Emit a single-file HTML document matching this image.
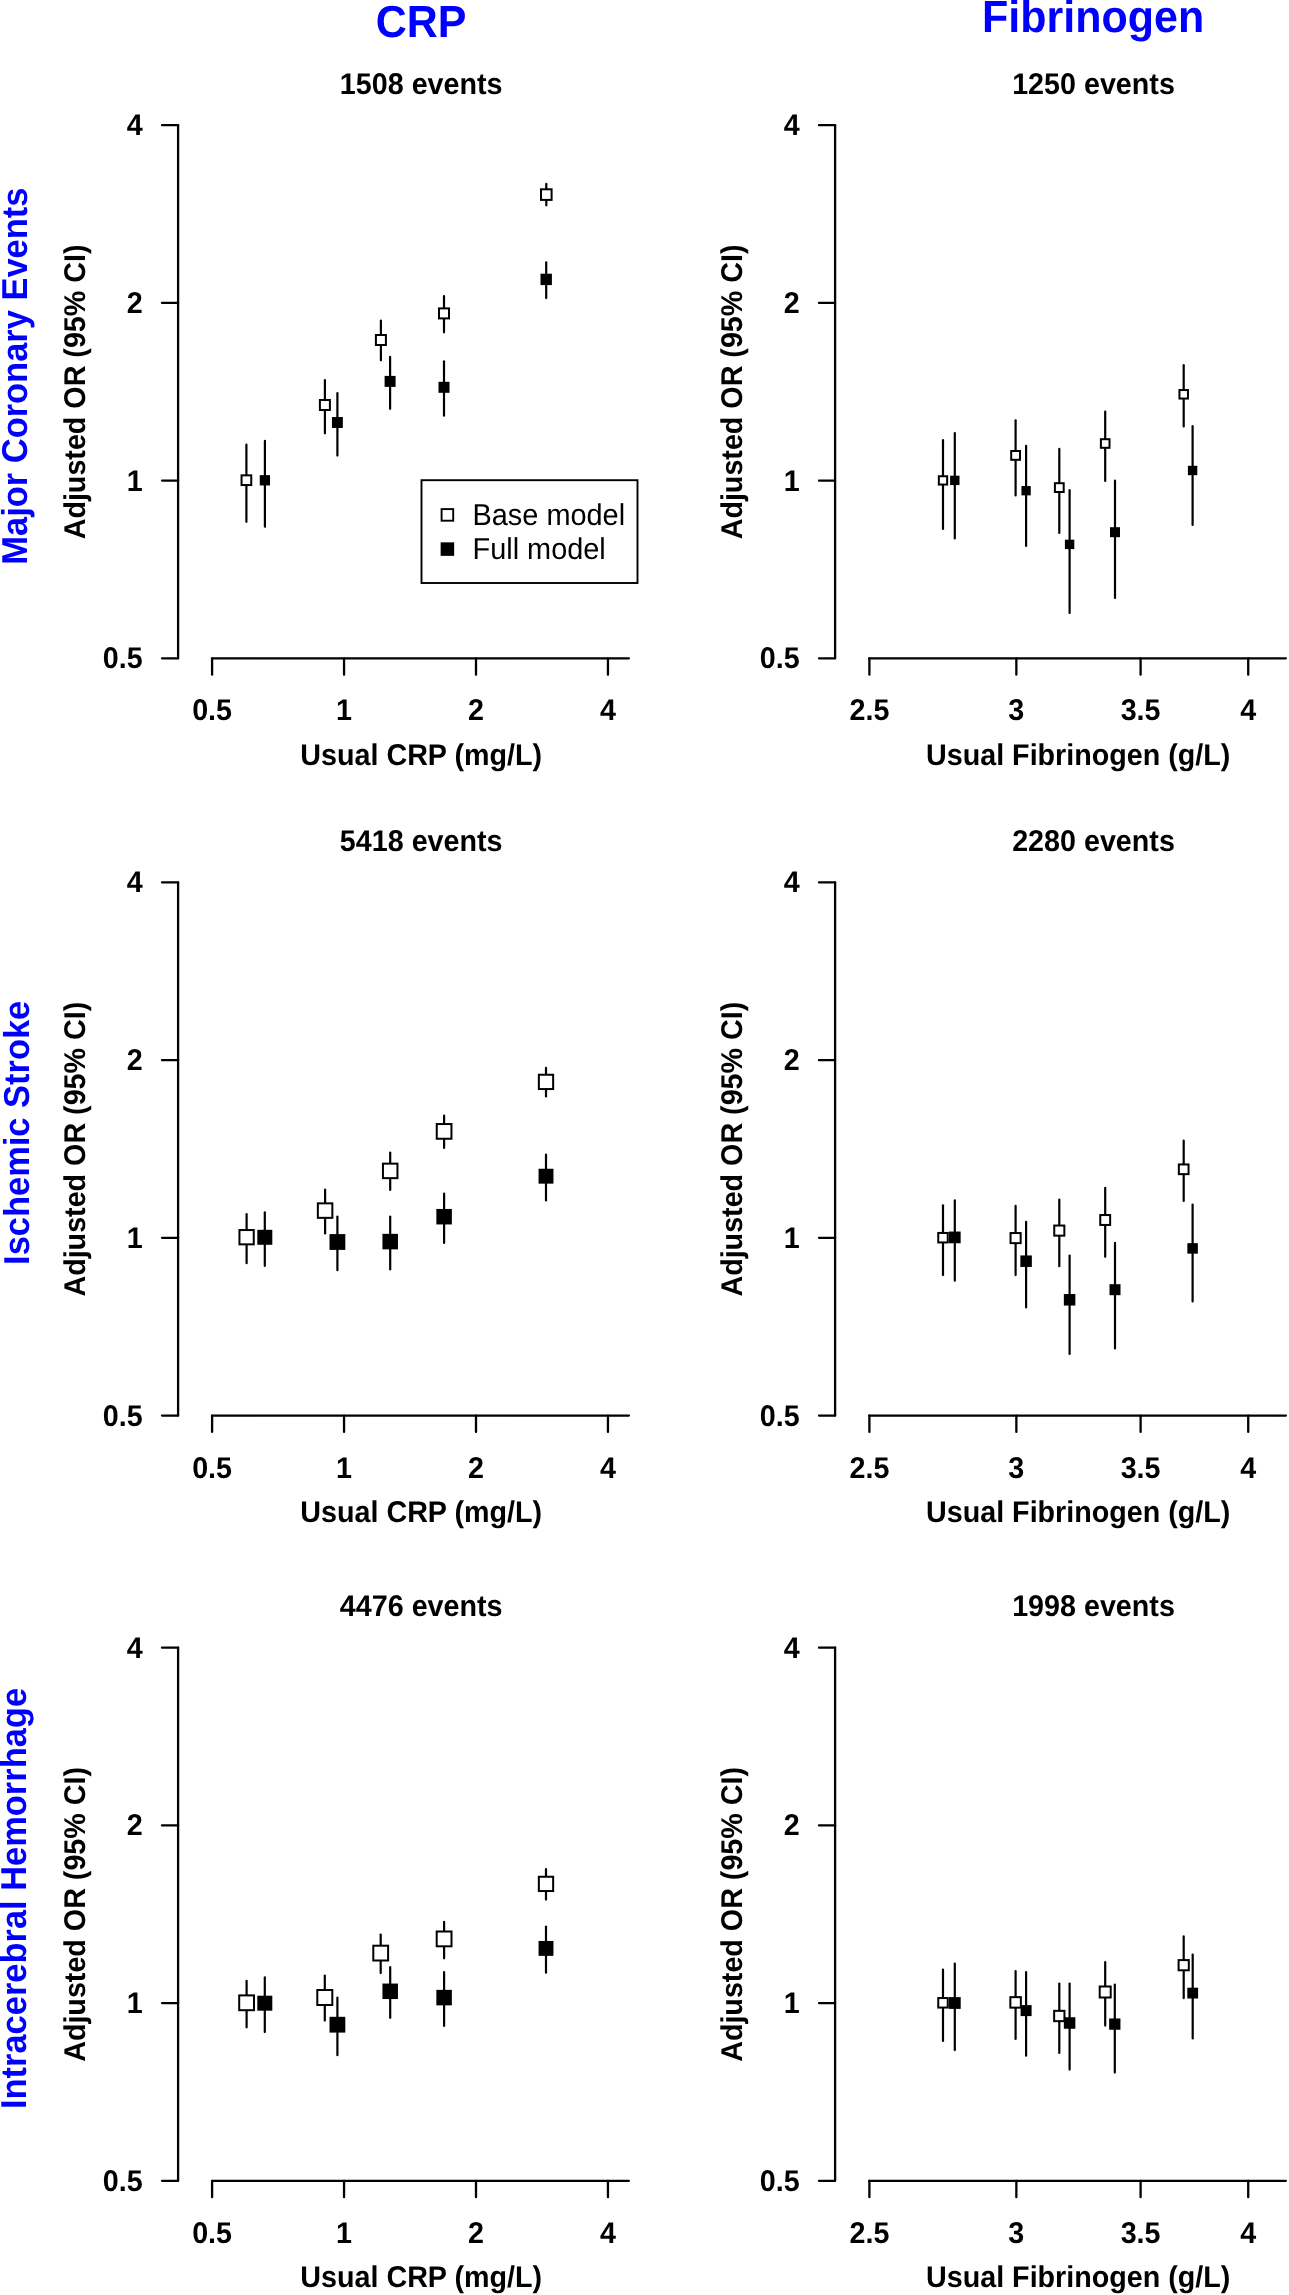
<!DOCTYPE html>
<html><head><meta charset="utf-8"><style>
html,body{margin:0;padding:0;background:#fff;width:1289px;height:2295px;overflow:hidden}
svg{display:block;will-change:transform}
text{font-family:"Liberation Sans",sans-serif;text-rendering:geometricPrecision}
</style></head><body>
<svg width="1289" height="2295" viewBox="0 0 1289 2295">
<rect width="1289" height="2295" fill="#fff"/>
<g stroke="#000" stroke-linecap="round" fill="none">
<line x1="178.10" y1="125.20" x2="178.10" y2="658.30" stroke-width="2.30"/>
<line x1="162.00" y1="125.20" x2="178.10" y2="125.20" stroke-width="2.30"/>
<line x1="162.00" y1="302.90" x2="178.10" y2="302.90" stroke-width="2.30"/>
<line x1="162.00" y1="480.60" x2="178.10" y2="480.60" stroke-width="2.30"/>
<line x1="162.00" y1="658.30" x2="178.10" y2="658.30" stroke-width="2.30"/>
<line x1="212.10" y1="658.30" x2="628.90" y2="658.30" stroke-width="2.30"/>
<line x1="212.10" y1="658.30" x2="212.10" y2="674.70" stroke-width="2.30"/>
<line x1="344.05" y1="658.30" x2="344.05" y2="674.70" stroke-width="2.30"/>
<line x1="476.00" y1="658.30" x2="476.00" y2="674.70" stroke-width="2.30"/>
<line x1="607.95" y1="658.30" x2="607.95" y2="674.70" stroke-width="2.30"/>
<line x1="246.40" y1="444.70" x2="246.40" y2="521.80" stroke-width="2.20"/>
<line x1="324.90" y1="380.10" x2="324.90" y2="433.30" stroke-width="2.20"/>
<line x1="380.90" y1="320.60" x2="380.90" y2="360.30" stroke-width="2.20"/>
<line x1="444.00" y1="296.10" x2="444.00" y2="332.30" stroke-width="2.20"/>
<line x1="546.30" y1="183.90" x2="546.30" y2="205.30" stroke-width="2.20"/>
<line x1="264.90" y1="440.90" x2="264.90" y2="526.70" stroke-width="2.20"/>
<line x1="337.40" y1="393.10" x2="337.40" y2="455.60" stroke-width="2.20"/>
<line x1="390.10" y1="356.90" x2="390.10" y2="408.80" stroke-width="2.20"/>
<line x1="444.00" y1="361.30" x2="444.00" y2="415.70" stroke-width="2.20"/>
<line x1="546.20" y1="262.30" x2="546.20" y2="298.10" stroke-width="2.20"/>
<rect x="241.55" y="475.35" width="9.70" height="9.70" fill="#fff" stroke-width="2.00"/>
<rect x="319.90" y="400.00" width="10.00" height="10.00" fill="#fff" stroke-width="2.00"/>
<rect x="375.90" y="335.00" width="10.00" height="10.00" fill="#fff" stroke-width="2.00"/>
<rect x="439.00" y="308.40" width="10.00" height="10.00" fill="#fff" stroke-width="2.00"/>
<rect x="541.00" y="189.30" width="10.60" height="10.60" fill="#fff" stroke-width="2.00"/>
<rect x="259.75" y="475.15" width="10.30" height="10.30" fill="#000" stroke="none"/>
<rect x="331.95" y="417.05" width="10.90" height="10.90" fill="#000" stroke="none"/>
<rect x="384.60" y="375.90" width="11.00" height="11.00" fill="#000" stroke="none"/>
<rect x="438.50" y="381.80" width="11.00" height="11.00" fill="#000" stroke="none"/>
<rect x="540.50" y="273.70" width="11.40" height="11.40" fill="#000" stroke="none"/>
<line x1="835.10" y1="125.20" x2="835.10" y2="658.30" stroke-width="2.30"/>
<line x1="819.00" y1="125.20" x2="835.10" y2="125.20" stroke-width="2.30"/>
<line x1="819.00" y1="302.90" x2="835.10" y2="302.90" stroke-width="2.30"/>
<line x1="819.00" y1="480.60" x2="835.10" y2="480.60" stroke-width="2.30"/>
<line x1="819.00" y1="658.30" x2="835.10" y2="658.30" stroke-width="2.30"/>
<line x1="869.10" y1="658.30" x2="1285.90" y2="658.30" stroke-width="2.30"/>
<line x1="869.40" y1="658.30" x2="869.40" y2="674.70" stroke-width="2.30"/>
<line x1="1016.35" y1="658.30" x2="1016.35" y2="674.70" stroke-width="2.30"/>
<line x1="1140.60" y1="658.30" x2="1140.60" y2="674.70" stroke-width="2.30"/>
<line x1="1248.22" y1="658.30" x2="1248.22" y2="674.70" stroke-width="2.30"/>
<line x1="943.00" y1="440.20" x2="943.00" y2="529.00" stroke-width="2.20"/>
<line x1="1015.60" y1="420.30" x2="1015.60" y2="495.50" stroke-width="2.20"/>
<line x1="1059.30" y1="448.90" x2="1059.30" y2="533.00" stroke-width="2.20"/>
<line x1="1105.20" y1="411.60" x2="1105.20" y2="481.00" stroke-width="2.20"/>
<line x1="1183.70" y1="365.20" x2="1183.70" y2="426.50" stroke-width="2.20"/>
<line x1="954.80" y1="433.10" x2="954.80" y2="538.50" stroke-width="2.20"/>
<line x1="1026.10" y1="445.80" x2="1026.10" y2="546.00" stroke-width="2.20"/>
<line x1="1069.60" y1="490.20" x2="1069.60" y2="613.00" stroke-width="2.20"/>
<line x1="1115.00" y1="480.70" x2="1115.00" y2="597.90" stroke-width="2.20"/>
<line x1="1192.60" y1="426.20" x2="1192.60" y2="524.90" stroke-width="2.20"/>
<rect x="938.85" y="476.25" width="8.30" height="8.30" fill="#fff" stroke-width="2.00"/>
<rect x="1011.20" y="451.00" width="8.80" height="8.80" fill="#fff" stroke-width="2.00"/>
<rect x="1054.90" y="483.20" width="8.80" height="8.80" fill="#fff" stroke-width="2.00"/>
<rect x="1100.90" y="439.20" width="8.60" height="8.60" fill="#fff" stroke-width="2.00"/>
<rect x="1179.45" y="390.05" width="8.50" height="8.50" fill="#fff" stroke-width="2.00"/>
<rect x="950.10" y="475.70" width="9.40" height="9.40" fill="#000" stroke="none"/>
<rect x="1021.45" y="486.05" width="9.30" height="9.30" fill="#000" stroke="none"/>
<rect x="1064.90" y="539.70" width="9.40" height="9.40" fill="#000" stroke="none"/>
<rect x="1110.00" y="527.20" width="10.00" height="10.00" fill="#000" stroke="none"/>
<rect x="1187.90" y="465.80" width="9.40" height="9.40" fill="#000" stroke="none"/>
<line x1="178.10" y1="882.45" x2="178.10" y2="1415.55" stroke-width="2.30"/>
<line x1="162.00" y1="882.45" x2="178.10" y2="882.45" stroke-width="2.30"/>
<line x1="162.00" y1="1060.15" x2="178.10" y2="1060.15" stroke-width="2.30"/>
<line x1="162.00" y1="1237.85" x2="178.10" y2="1237.85" stroke-width="2.30"/>
<line x1="162.00" y1="1415.55" x2="178.10" y2="1415.55" stroke-width="2.30"/>
<line x1="212.10" y1="1415.55" x2="628.90" y2="1415.55" stroke-width="2.30"/>
<line x1="212.10" y1="1415.55" x2="212.10" y2="1431.95" stroke-width="2.30"/>
<line x1="344.05" y1="1415.55" x2="344.05" y2="1431.95" stroke-width="2.30"/>
<line x1="476.00" y1="1415.55" x2="476.00" y2="1431.95" stroke-width="2.30"/>
<line x1="607.95" y1="1415.55" x2="607.95" y2="1431.95" stroke-width="2.30"/>
<line x1="246.60" y1="1214.00" x2="246.60" y2="1263.20" stroke-width="2.20"/>
<line x1="325.10" y1="1189.70" x2="325.10" y2="1233.40" stroke-width="2.20"/>
<line x1="390.20" y1="1152.60" x2="390.20" y2="1189.90" stroke-width="2.20"/>
<line x1="444.10" y1="1115.60" x2="444.10" y2="1148.00" stroke-width="2.20"/>
<line x1="546.00" y1="1067.90" x2="546.00" y2="1096.40" stroke-width="2.20"/>
<line x1="264.80" y1="1212.30" x2="264.80" y2="1266.00" stroke-width="2.20"/>
<line x1="337.40" y1="1216.50" x2="337.40" y2="1270.20" stroke-width="2.20"/>
<line x1="390.20" y1="1216.50" x2="390.20" y2="1269.50" stroke-width="2.20"/>
<line x1="444.10" y1="1193.50" x2="444.10" y2="1243.00" stroke-width="2.20"/>
<line x1="546.00" y1="1154.70" x2="546.00" y2="1200.40" stroke-width="2.20"/>
<rect x="239.45" y="1230.05" width="14.30" height="14.30" fill="#fff" stroke-width="2.00"/>
<rect x="317.85" y="1203.35" width="14.50" height="14.50" fill="#fff" stroke-width="2.00"/>
<rect x="382.95" y="1163.65" width="14.50" height="14.50" fill="#fff" stroke-width="2.00"/>
<rect x="436.75" y="1124.05" width="14.70" height="14.70" fill="#fff" stroke-width="2.00"/>
<rect x="538.85" y="1074.75" width="14.30" height="14.30" fill="#fff" stroke-width="2.00"/>
<rect x="257.30" y="1229.80" width="15.00" height="15.00" fill="#000" stroke="none"/>
<rect x="329.50" y="1234.10" width="15.80" height="15.80" fill="#000" stroke="none"/>
<rect x="382.45" y="1233.85" width="15.50" height="15.50" fill="#000" stroke="none"/>
<rect x="436.35" y="1208.95" width="15.50" height="15.50" fill="#000" stroke="none"/>
<rect x="538.55" y="1168.75" width="14.90" height="14.90" fill="#000" stroke="none"/>
<line x1="835.10" y1="882.45" x2="835.10" y2="1415.55" stroke-width="2.30"/>
<line x1="819.00" y1="882.45" x2="835.10" y2="882.45" stroke-width="2.30"/>
<line x1="819.00" y1="1060.15" x2="835.10" y2="1060.15" stroke-width="2.30"/>
<line x1="819.00" y1="1237.85" x2="835.10" y2="1237.85" stroke-width="2.30"/>
<line x1="819.00" y1="1415.55" x2="835.10" y2="1415.55" stroke-width="2.30"/>
<line x1="869.10" y1="1415.55" x2="1285.90" y2="1415.55" stroke-width="2.30"/>
<line x1="869.40" y1="1415.55" x2="869.40" y2="1431.95" stroke-width="2.30"/>
<line x1="1016.35" y1="1415.55" x2="1016.35" y2="1431.95" stroke-width="2.30"/>
<line x1="1140.60" y1="1415.55" x2="1140.60" y2="1431.95" stroke-width="2.30"/>
<line x1="1248.22" y1="1415.55" x2="1248.22" y2="1431.95" stroke-width="2.30"/>
<line x1="943.00" y1="1205.30" x2="943.00" y2="1275.10" stroke-width="2.20"/>
<line x1="1015.60" y1="1205.90" x2="1015.60" y2="1275.10" stroke-width="2.20"/>
<line x1="1059.30" y1="1199.70" x2="1059.30" y2="1266.20" stroke-width="2.20"/>
<line x1="1105.20" y1="1187.90" x2="1105.20" y2="1256.80" stroke-width="2.20"/>
<line x1="1183.70" y1="1140.70" x2="1183.70" y2="1200.90" stroke-width="2.20"/>
<line x1="954.80" y1="1200.30" x2="954.80" y2="1280.70" stroke-width="2.20"/>
<line x1="1026.10" y1="1221.80" x2="1026.10" y2="1307.40" stroke-width="2.20"/>
<line x1="1069.60" y1="1255.60" x2="1069.60" y2="1353.90" stroke-width="2.20"/>
<line x1="1115.00" y1="1242.90" x2="1115.00" y2="1348.40" stroke-width="2.20"/>
<line x1="1192.60" y1="1204.50" x2="1192.60" y2="1301.40" stroke-width="2.20"/>
<rect x="938.25" y="1232.95" width="9.50" height="9.50" fill="#fff" stroke-width="2.00"/>
<rect x="1010.55" y="1233.05" width="10.10" height="10.10" fill="#fff" stroke-width="2.00"/>
<rect x="1054.25" y="1225.55" width="10.10" height="10.10" fill="#fff" stroke-width="2.00"/>
<rect x="1100.25" y="1215.05" width="9.90" height="9.90" fill="#fff" stroke-width="2.00"/>
<rect x="1178.85" y="1164.45" width="9.70" height="9.70" fill="#fff" stroke-width="2.00"/>
<rect x="948.95" y="1231.55" width="11.70" height="11.70" fill="#000" stroke="none"/>
<rect x="1020.35" y="1255.45" width="11.50" height="11.50" fill="#000" stroke="none"/>
<rect x="1063.85" y="1294.05" width="11.50" height="11.50" fill="#000" stroke="none"/>
<rect x="1109.50" y="1284.20" width="11.00" height="11.00" fill="#000" stroke="none"/>
<rect x="1187.35" y="1243.15" width="10.50" height="10.50" fill="#000" stroke="none"/>
<line x1="178.10" y1="1647.70" x2="178.10" y2="2180.80" stroke-width="2.30"/>
<line x1="162.00" y1="1647.70" x2="178.10" y2="1647.70" stroke-width="2.30"/>
<line x1="162.00" y1="1825.40" x2="178.10" y2="1825.40" stroke-width="2.30"/>
<line x1="162.00" y1="2003.10" x2="178.10" y2="2003.10" stroke-width="2.30"/>
<line x1="162.00" y1="2180.80" x2="178.10" y2="2180.80" stroke-width="2.30"/>
<line x1="212.10" y1="2180.80" x2="628.90" y2="2180.80" stroke-width="2.30"/>
<line x1="212.10" y1="2180.80" x2="212.10" y2="2197.20" stroke-width="2.30"/>
<line x1="344.05" y1="2180.80" x2="344.05" y2="2197.20" stroke-width="2.30"/>
<line x1="476.00" y1="2180.80" x2="476.00" y2="2197.20" stroke-width="2.30"/>
<line x1="607.95" y1="2180.80" x2="607.95" y2="2197.20" stroke-width="2.30"/>
<line x1="246.60" y1="1980.90" x2="246.60" y2="2027.30" stroke-width="2.20"/>
<line x1="324.80" y1="1975.60" x2="324.80" y2="2020.60" stroke-width="2.20"/>
<line x1="380.70" y1="1934.60" x2="380.70" y2="1973.10" stroke-width="2.20"/>
<line x1="444.10" y1="1921.80" x2="444.10" y2="1958.30" stroke-width="2.20"/>
<line x1="546.00" y1="1869.00" x2="546.00" y2="1899.60" stroke-width="2.20"/>
<line x1="264.80" y1="1977.40" x2="264.80" y2="2032.10" stroke-width="2.20"/>
<line x1="337.40" y1="1997.70" x2="337.40" y2="2055.20" stroke-width="2.20"/>
<line x1="390.20" y1="1967.00" x2="390.20" y2="2017.80" stroke-width="2.20"/>
<line x1="444.10" y1="1972.10" x2="444.10" y2="2026.00" stroke-width="2.20"/>
<line x1="546.00" y1="1926.60" x2="546.00" y2="1972.70" stroke-width="2.20"/>
<rect x="239.20" y="1995.40" width="14.80" height="14.80" fill="#fff" stroke-width="2.00"/>
<rect x="317.30" y="1990.00" width="15.00" height="15.00" fill="#fff" stroke-width="2.00"/>
<rect x="373.30" y="1945.70" width="14.80" height="14.80" fill="#fff" stroke-width="2.00"/>
<rect x="436.70" y="1931.50" width="14.80" height="14.80" fill="#fff" stroke-width="2.00"/>
<rect x="538.85" y="1876.75" width="14.30" height="14.30" fill="#fff" stroke-width="2.00"/>
<rect x="257.30" y="1995.70" width="15.00" height="15.00" fill="#000" stroke="none"/>
<rect x="329.50" y="2016.80" width="15.80" height="15.80" fill="#000" stroke="none"/>
<rect x="382.45" y="1983.55" width="15.50" height="15.50" fill="#000" stroke="none"/>
<rect x="436.35" y="1989.85" width="15.50" height="15.50" fill="#000" stroke="none"/>
<rect x="538.55" y="1940.95" width="14.90" height="14.90" fill="#000" stroke="none"/>
<line x1="835.10" y1="1647.70" x2="835.10" y2="2180.80" stroke-width="2.30"/>
<line x1="819.00" y1="1647.70" x2="835.10" y2="1647.70" stroke-width="2.30"/>
<line x1="819.00" y1="1825.40" x2="835.10" y2="1825.40" stroke-width="2.30"/>
<line x1="819.00" y1="2003.10" x2="835.10" y2="2003.10" stroke-width="2.30"/>
<line x1="819.00" y1="2180.80" x2="835.10" y2="2180.80" stroke-width="2.30"/>
<line x1="869.10" y1="2180.80" x2="1285.90" y2="2180.80" stroke-width="2.30"/>
<line x1="869.40" y1="2180.80" x2="869.40" y2="2197.20" stroke-width="2.30"/>
<line x1="1016.35" y1="2180.80" x2="1016.35" y2="2197.20" stroke-width="2.30"/>
<line x1="1140.60" y1="2180.80" x2="1140.60" y2="2197.20" stroke-width="2.30"/>
<line x1="1248.22" y1="2180.80" x2="1248.22" y2="2197.20" stroke-width="2.30"/>
<line x1="943.00" y1="1969.70" x2="943.00" y2="2041.00" stroke-width="2.20"/>
<line x1="1015.60" y1="1971.00" x2="1015.60" y2="2038.90" stroke-width="2.20"/>
<line x1="1059.30" y1="1983.60" x2="1059.30" y2="2052.90" stroke-width="2.20"/>
<line x1="1105.20" y1="1962.20" x2="1105.20" y2="2025.60" stroke-width="2.20"/>
<line x1="1183.70" y1="1936.30" x2="1183.70" y2="1998.20" stroke-width="2.20"/>
<line x1="954.80" y1="1963.50" x2="954.80" y2="2050.10" stroke-width="2.20"/>
<line x1="1026.10" y1="1972.00" x2="1026.10" y2="2055.70" stroke-width="2.20"/>
<line x1="1069.60" y1="1983.60" x2="1069.60" y2="2069.60" stroke-width="2.20"/>
<line x1="1114.80" y1="1984.60" x2="1114.80" y2="2072.60" stroke-width="2.20"/>
<line x1="1192.70" y1="1954.60" x2="1192.70" y2="2038.40" stroke-width="2.20"/>
<rect x="938.25" y="1998.05" width="9.50" height="9.50" fill="#fff" stroke-width="2.00"/>
<rect x="1010.35" y="1997.15" width="10.50" height="10.50" fill="#fff" stroke-width="2.00"/>
<rect x="1054.15" y="2010.85" width="10.30" height="10.30" fill="#fff" stroke-width="2.00"/>
<rect x="1099.70" y="1986.50" width="11.00" height="11.00" fill="#fff" stroke-width="2.00"/>
<rect x="1178.60" y="1960.10" width="10.20" height="10.20" fill="#fff" stroke-width="2.00"/>
<rect x="948.90" y="1997.10" width="11.80" height="11.80" fill="#000" stroke="none"/>
<rect x="1020.60" y="2005.10" width="11.00" height="11.00" fill="#000" stroke="none"/>
<rect x="1063.85" y="2017.25" width="11.50" height="11.50" fill="#000" stroke="none"/>
<rect x="1109.15" y="2018.45" width="11.30" height="11.30" fill="#000" stroke="none"/>
<rect x="1187.30" y="1987.70" width="10.80" height="10.80" fill="#000" stroke="none"/>
<rect x="421.5" y="480.2" width="216.0" height="102.8" fill="none" stroke-width="1.9"/>
<rect x="441.60" y="509.10" width="11.60" height="11.60" fill="#fff" stroke-width="1.9"/>
<rect x="440.65" y="542.35" width="13.5" height="13.5" fill="#000" stroke="none"/>
</g>
<g stroke="none">
<text transform="translate(421.10,36.50) scale(1,1.045)" font-size="43.00" font-weight="bold" fill="#0000ff" text-anchor="middle">CRP</text>
<text transform="translate(1093.10,31.70) scale(1,1.045)" font-size="43.00" font-weight="bold" fill="#0000ff" text-anchor="middle">Fibrinogen</text>
<text transform="translate(26.50,376.15) rotate(-90) scale(1,1.045)" font-size="34.45" font-weight="bold" fill="#0000ff" text-anchor="middle">Major Coronary Events</text>
<text transform="translate(421.20,93.60) scale(1,1.045)" font-size="28.70" font-weight="bold" fill="#000" text-anchor="middle">1508 events</text>
<text transform="translate(142.60,135.20) scale(1,1.045)" font-size="28.70" font-weight="bold" fill="#000" text-anchor="end">4</text>
<text transform="translate(142.60,312.90) scale(1,1.045)" font-size="28.70" font-weight="bold" fill="#000" text-anchor="end">2</text>
<text transform="translate(142.60,490.60) scale(1,1.045)" font-size="28.70" font-weight="bold" fill="#000" text-anchor="end">1</text>
<text transform="translate(142.60,668.30) scale(1,1.045)" font-size="28.70" font-weight="bold" fill="#000" text-anchor="end">0.5</text>
<text transform="translate(84.70,391.90) rotate(-90) scale(1,1.045)" font-size="28.70" font-weight="bold" fill="#000" text-anchor="middle">Adjusted OR (95% CI)</text>
<text transform="translate(212.10,720.30) scale(1,1.045)" font-size="28.70" font-weight="bold" fill="#000" text-anchor="middle">0.5</text>
<text transform="translate(344.05,720.30) scale(1,1.045)" font-size="28.70" font-weight="bold" fill="#000" text-anchor="middle">1</text>
<text transform="translate(476.00,720.30) scale(1,1.045)" font-size="28.70" font-weight="bold" fill="#000" text-anchor="middle">2</text>
<text transform="translate(607.95,720.30) scale(1,1.045)" font-size="28.70" font-weight="bold" fill="#000" text-anchor="middle">4</text>
<text transform="translate(421.20,764.70) scale(1,1.045)" font-size="28.70" font-weight="bold" fill="#000" text-anchor="middle">Usual CRP (mg/L)</text>
<text transform="translate(1093.50,93.60) scale(1,1.045)" font-size="28.70" font-weight="bold" fill="#000" text-anchor="middle">1250 events</text>
<text transform="translate(799.60,135.20) scale(1,1.045)" font-size="28.70" font-weight="bold" fill="#000" text-anchor="end">4</text>
<text transform="translate(799.60,312.90) scale(1,1.045)" font-size="28.70" font-weight="bold" fill="#000" text-anchor="end">2</text>
<text transform="translate(799.60,490.60) scale(1,1.045)" font-size="28.70" font-weight="bold" fill="#000" text-anchor="end">1</text>
<text transform="translate(799.60,668.30) scale(1,1.045)" font-size="28.70" font-weight="bold" fill="#000" text-anchor="end">0.5</text>
<text transform="translate(741.70,391.90) rotate(-90) scale(1,1.045)" font-size="28.70" font-weight="bold" fill="#000" text-anchor="middle">Adjusted OR (95% CI)</text>
<text transform="translate(869.40,720.30) scale(1,1.045)" font-size="28.70" font-weight="bold" fill="#000" text-anchor="middle">2.5</text>
<text transform="translate(1016.35,720.30) scale(1,1.045)" font-size="28.70" font-weight="bold" fill="#000" text-anchor="middle">3</text>
<text transform="translate(1140.60,720.30) scale(1,1.045)" font-size="28.70" font-weight="bold" fill="#000" text-anchor="middle">3.5</text>
<text transform="translate(1248.22,720.30) scale(1,1.045)" font-size="28.70" font-weight="bold" fill="#000" text-anchor="middle">4</text>
<text transform="translate(1078.20,764.70) scale(1,1.045)" font-size="28.70" font-weight="bold" fill="#000" text-anchor="middle">Usual Fibrinogen (g/L)</text>
<text transform="translate(29.20,1132.80) rotate(-90) scale(1,1.045)" font-size="34.45" font-weight="bold" fill="#0000ff" text-anchor="middle">Ischemic Stroke</text>
<text transform="translate(421.20,850.85) scale(1,1.045)" font-size="28.70" font-weight="bold" fill="#000" text-anchor="middle">5418 events</text>
<text transform="translate(142.60,892.45) scale(1,1.045)" font-size="28.70" font-weight="bold" fill="#000" text-anchor="end">4</text>
<text transform="translate(142.60,1070.15) scale(1,1.045)" font-size="28.70" font-weight="bold" fill="#000" text-anchor="end">2</text>
<text transform="translate(142.60,1247.85) scale(1,1.045)" font-size="28.70" font-weight="bold" fill="#000" text-anchor="end">1</text>
<text transform="translate(142.60,1425.55) scale(1,1.045)" font-size="28.70" font-weight="bold" fill="#000" text-anchor="end">0.5</text>
<text transform="translate(84.70,1149.15) rotate(-90) scale(1,1.045)" font-size="28.70" font-weight="bold" fill="#000" text-anchor="middle">Adjusted OR (95% CI)</text>
<text transform="translate(212.10,1477.55) scale(1,1.045)" font-size="28.70" font-weight="bold" fill="#000" text-anchor="middle">0.5</text>
<text transform="translate(344.05,1477.55) scale(1,1.045)" font-size="28.70" font-weight="bold" fill="#000" text-anchor="middle">1</text>
<text transform="translate(476.00,1477.55) scale(1,1.045)" font-size="28.70" font-weight="bold" fill="#000" text-anchor="middle">2</text>
<text transform="translate(607.95,1477.55) scale(1,1.045)" font-size="28.70" font-weight="bold" fill="#000" text-anchor="middle">4</text>
<text transform="translate(421.20,1521.95) scale(1,1.045)" font-size="28.70" font-weight="bold" fill="#000" text-anchor="middle">Usual CRP (mg/L)</text>
<text transform="translate(1093.50,850.85) scale(1,1.045)" font-size="28.70" font-weight="bold" fill="#000" text-anchor="middle">2280 events</text>
<text transform="translate(799.60,892.45) scale(1,1.045)" font-size="28.70" font-weight="bold" fill="#000" text-anchor="end">4</text>
<text transform="translate(799.60,1070.15) scale(1,1.045)" font-size="28.70" font-weight="bold" fill="#000" text-anchor="end">2</text>
<text transform="translate(799.60,1247.85) scale(1,1.045)" font-size="28.70" font-weight="bold" fill="#000" text-anchor="end">1</text>
<text transform="translate(799.60,1425.55) scale(1,1.045)" font-size="28.70" font-weight="bold" fill="#000" text-anchor="end">0.5</text>
<text transform="translate(741.70,1149.15) rotate(-90) scale(1,1.045)" font-size="28.70" font-weight="bold" fill="#000" text-anchor="middle">Adjusted OR (95% CI)</text>
<text transform="translate(869.40,1477.55) scale(1,1.045)" font-size="28.70" font-weight="bold" fill="#000" text-anchor="middle">2.5</text>
<text transform="translate(1016.35,1477.55) scale(1,1.045)" font-size="28.70" font-weight="bold" fill="#000" text-anchor="middle">3</text>
<text transform="translate(1140.60,1477.55) scale(1,1.045)" font-size="28.70" font-weight="bold" fill="#000" text-anchor="middle">3.5</text>
<text transform="translate(1248.22,1477.55) scale(1,1.045)" font-size="28.70" font-weight="bold" fill="#000" text-anchor="middle">4</text>
<text transform="translate(1078.20,1521.95) scale(1,1.045)" font-size="28.70" font-weight="bold" fill="#000" text-anchor="middle">Usual Fibrinogen (g/L)</text>
<text transform="translate(25.90,1898.50) rotate(-90) scale(1,1.045)" font-size="34.45" font-weight="bold" fill="#0000ff" text-anchor="middle">Intracerebral Hemorrhage</text>
<text transform="translate(421.20,1616.10) scale(1,1.045)" font-size="28.70" font-weight="bold" fill="#000" text-anchor="middle">4476 events</text>
<text transform="translate(142.60,1657.70) scale(1,1.045)" font-size="28.70" font-weight="bold" fill="#000" text-anchor="end">4</text>
<text transform="translate(142.60,1835.40) scale(1,1.045)" font-size="28.70" font-weight="bold" fill="#000" text-anchor="end">2</text>
<text transform="translate(142.60,2013.10) scale(1,1.045)" font-size="28.70" font-weight="bold" fill="#000" text-anchor="end">1</text>
<text transform="translate(142.60,2190.80) scale(1,1.045)" font-size="28.70" font-weight="bold" fill="#000" text-anchor="end">0.5</text>
<text transform="translate(84.70,1914.40) rotate(-90) scale(1,1.045)" font-size="28.70" font-weight="bold" fill="#000" text-anchor="middle">Adjusted OR (95% CI)</text>
<text transform="translate(212.10,2242.80) scale(1,1.045)" font-size="28.70" font-weight="bold" fill="#000" text-anchor="middle">0.5</text>
<text transform="translate(344.05,2242.80) scale(1,1.045)" font-size="28.70" font-weight="bold" fill="#000" text-anchor="middle">1</text>
<text transform="translate(476.00,2242.80) scale(1,1.045)" font-size="28.70" font-weight="bold" fill="#000" text-anchor="middle">2</text>
<text transform="translate(607.95,2242.80) scale(1,1.045)" font-size="28.70" font-weight="bold" fill="#000" text-anchor="middle">4</text>
<text transform="translate(421.20,2287.20) scale(1,1.045)" font-size="28.70" font-weight="bold" fill="#000" text-anchor="middle">Usual CRP (mg/L)</text>
<text transform="translate(1093.50,1616.10) scale(1,1.045)" font-size="28.70" font-weight="bold" fill="#000" text-anchor="middle">1998 events</text>
<text transform="translate(799.60,1657.70) scale(1,1.045)" font-size="28.70" font-weight="bold" fill="#000" text-anchor="end">4</text>
<text transform="translate(799.60,1835.40) scale(1,1.045)" font-size="28.70" font-weight="bold" fill="#000" text-anchor="end">2</text>
<text transform="translate(799.60,2013.10) scale(1,1.045)" font-size="28.70" font-weight="bold" fill="#000" text-anchor="end">1</text>
<text transform="translate(799.60,2190.80) scale(1,1.045)" font-size="28.70" font-weight="bold" fill="#000" text-anchor="end">0.5</text>
<text transform="translate(741.70,1914.40) rotate(-90) scale(1,1.045)" font-size="28.70" font-weight="bold" fill="#000" text-anchor="middle">Adjusted OR (95% CI)</text>
<text transform="translate(869.40,2242.80) scale(1,1.045)" font-size="28.70" font-weight="bold" fill="#000" text-anchor="middle">2.5</text>
<text transform="translate(1016.35,2242.80) scale(1,1.045)" font-size="28.70" font-weight="bold" fill="#000" text-anchor="middle">3</text>
<text transform="translate(1140.60,2242.80) scale(1,1.045)" font-size="28.70" font-weight="bold" fill="#000" text-anchor="middle">3.5</text>
<text transform="translate(1248.22,2242.80) scale(1,1.045)" font-size="28.70" font-weight="bold" fill="#000" text-anchor="middle">4</text>
<text transform="translate(1078.20,2287.20) scale(1,1.045)" font-size="28.70" font-weight="bold" fill="#000" text-anchor="middle">Usual Fibrinogen (g/L)</text>
<text transform="translate(472.50,524.80) scale(1,1.045)" font-size="28.90" font-weight="normal" fill="#000" text-anchor="start">Base model</text>
<text transform="translate(472.50,559.00) scale(1,1.045)" font-size="28.90" font-weight="normal" fill="#000" text-anchor="start">Full model</text>
</g>
</svg>
</body></html>
